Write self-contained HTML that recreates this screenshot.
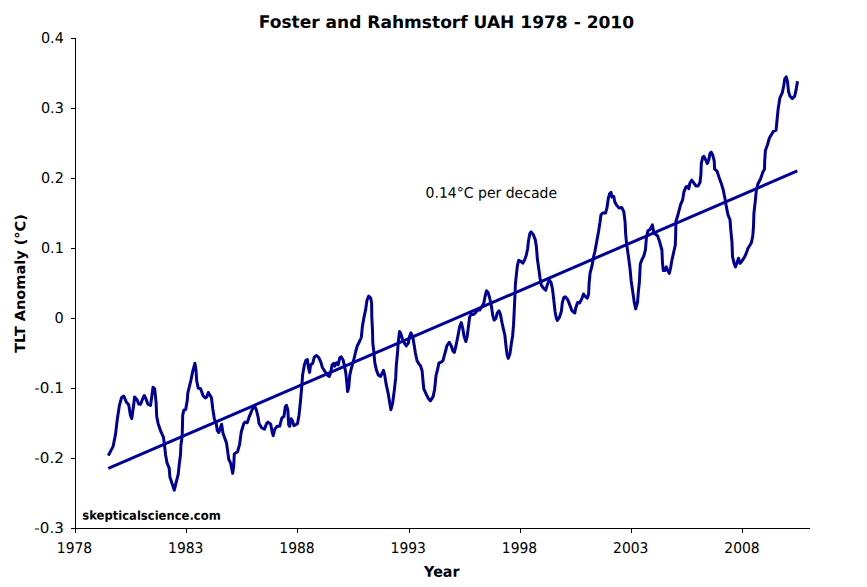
<!DOCTYPE html>
<html lang="en"><head><meta charset="utf-8"><title>Foster and Rahmstorf UAH 1978 - 2010</title>
<style>
html,body{margin:0;padding:0;background:#fff;}
body{width:867px;height:587px;overflow:hidden;}
svg{display:block;}
text{font-family:"DejaVu Sans", "Liberation Sans", sans-serif;fill:#000;}
</style></head><body>
<svg width="867" height="587" viewBox="0 0 867 587">
<rect x="0" y="0" width="867" height="587" fill="#ffffff"/>
<!-- axes -->
<g fill="#000" shape-rendering="crispEdges">
<rect x="75" y="38" width="1" height="495"/>
<rect x="71" y="528" width="739" height="1"/>
<rect x="71" y="38" width="4" height="1"/>
<rect x="71" y="108" width="4" height="1"/>
<rect x="71" y="178" width="4" height="1"/>
<rect x="71" y="248" width="4" height="1"/>
<rect x="71" y="318" width="4" height="1"/>
<rect x="71" y="388" width="4" height="1"/>
<rect x="71" y="458" width="4" height="1"/>
<rect x="186" y="528" width="1" height="5"/>
<rect x="297" y="528" width="1" height="5"/>
<rect x="409" y="528" width="1" height="5"/>
<rect x="520" y="528" width="1" height="5"/>
<rect x="631" y="528" width="1" height="5"/>
<rect x="742" y="528" width="1" height="5"/>
</g>
<!-- y tick labels -->
<text transform="translate(63.80 43.00) rotate(0.05) scale(1 1.05)" font-size="14.0" text-anchor="end" textLength="22.8" lengthAdjust="spacingAndGlyphs">0.4</text>
<text transform="translate(63.80 113.00) rotate(0.05) scale(1 1.05)" font-size="14.0" text-anchor="end" textLength="22.8" lengthAdjust="spacingAndGlyphs">0.3</text>
<text transform="translate(63.80 183.00) rotate(0.05) scale(1 1.05)" font-size="14.0" text-anchor="end" textLength="22.8" lengthAdjust="spacingAndGlyphs">0.2</text>
<text transform="translate(63.80 253.00) rotate(0.05) scale(1 1.05)" font-size="14.0" text-anchor="end" textLength="22.8" lengthAdjust="spacingAndGlyphs">0.1</text>
<text transform="translate(63.80 323.00) rotate(0.05) scale(1 1.05)" font-size="14.0" text-anchor="end" textLength="9.2" lengthAdjust="spacingAndGlyphs">0</text>
<text transform="translate(63.80 393.00) rotate(0.05) scale(1 1.05)" font-size="14.0" text-anchor="end" textLength="29.5" lengthAdjust="spacingAndGlyphs">-0.1</text>
<text transform="translate(63.80 463.00) rotate(0.05) scale(1 1.05)" font-size="14.0" text-anchor="end" textLength="29.5" lengthAdjust="spacingAndGlyphs">-0.2</text>
<text transform="translate(63.80 533.00) rotate(0.05) scale(1 1.05)" font-size="14.0" text-anchor="end" textLength="29.5" lengthAdjust="spacingAndGlyphs">-0.3</text>
<!-- x tick labels -->
<text transform="translate(74.50 553.00) rotate(0.05) scale(1 1.05)" font-size="14.0" text-anchor="middle" textLength="35.3" lengthAdjust="spacingAndGlyphs">1978</text>
<text transform="translate(185.75 553.00) rotate(0.05) scale(1 1.05)" font-size="14.0" text-anchor="middle" textLength="35.3" lengthAdjust="spacingAndGlyphs">1983</text>
<text transform="translate(297.00 553.00) rotate(0.05) scale(1 1.05)" font-size="14.0" text-anchor="middle" textLength="35.3" lengthAdjust="spacingAndGlyphs">1988</text>
<text transform="translate(408.25 553.00) rotate(0.05) scale(1 1.05)" font-size="14.0" text-anchor="middle" textLength="35.3" lengthAdjust="spacingAndGlyphs">1993</text>
<text transform="translate(519.50 553.00) rotate(0.05) scale(1 1.05)" font-size="14.0" text-anchor="middle" textLength="35.3" lengthAdjust="spacingAndGlyphs">1998</text>
<text transform="translate(630.75 553.00) rotate(0.05) scale(1 1.05)" font-size="14.0" text-anchor="middle" textLength="35.3" lengthAdjust="spacingAndGlyphs">2003</text>
<text transform="translate(742.00 553.00) rotate(0.05) scale(1 1.05)" font-size="14.0" text-anchor="middle" textLength="35.3" lengthAdjust="spacingAndGlyphs">2008</text>
<!-- trend line + 12-month running mean series -->
<g fill="none" stroke="#000098" stroke-width="3.0" stroke-linejoin="round" stroke-linecap="butt">
<line x1="108.3" y1="468.4" x2="797.3" y2="170.9"/>
<polyline points="108.3,455.6 113.1,446.4 115.5,434.4 117.3,419.3 119.4,405.4 121.5,397.8 123.8,396.0 126.3,402.0 128.7,404.8 130.4,415.1 131.8,418.6 133.2,408.2 134.6,397.1 136.7,399.2 138.8,404.1 140.6,404.3 142.2,399.9 144.3,395.5 146.1,399.2 147.8,404.1 150.5,405.4 151.9,395.8 153.0,387.2 154.7,388.8 156.1,402.7 156.7,416.5 158.1,423.4 160.9,431.7 163.4,437.1 164.4,444.0 165.6,455.0 167.1,463.2 169.2,468.1 169.9,477.1 172.0,483.3 174.3,490.2 176.1,482.6 178.2,474.3 179.2,464.6 180.5,455.0 180.9,445.4 182.2,435.7 182.7,415.4 183.8,410.2 185.7,409.5 187.3,400.1 187.8,392.9 190.8,380.8 192.7,371.5 194.9,363.3 196.0,369.9 196.7,381.0 198.2,388.0 200.6,388.7 203.0,395.6 205.3,397.9 206.7,397.0 208.3,392.5 210.0,395.3 211.5,398.0 212.8,409.0 214.4,419.2 216.0,422.5 217.3,430.5 218.8,432.5 220.2,428.4 221.6,424.2 223.0,433.2 226.5,442.9 228.8,459.5 230.6,463.0 232.7,473.4 233.7,466.4 234.3,454.0 236.1,452.6 237.5,451.9 239.6,444.3 241.3,431.8 243.8,423.5 245.1,422.1 247.2,422.8 249.3,416.6 252.1,409.7 254.6,405.8 256.5,410.4 258.3,418.0 259.0,423.5 261.7,427.7 264.5,429.3 266.6,423.5 268.0,422.1 270.7,424.2 272.1,431.8 273.2,435.7 274.9,429.1 277.0,426.3 279.7,426.3 281.8,418.0 283.9,416.6 285.3,406.9 286.4,405.3 287.8,409.7 288.7,424.9 289.7,426.3 291.1,418.7 292.5,420.8 293.9,425.6 295.7,424.9 297.5,423.5 299.0,415.2 300.5,401.0 301.9,384.8 302.6,375.1 304.4,364.8 305.8,360.6 307.4,359.6 308.3,366.8 309.6,372.4 310.6,364.8 312.7,363.4 314.3,357.1 316.6,355.5 318.9,357.8 321.0,362.7 322.4,367.5 325.1,371.7 327.2,375.1 329.3,376.5 330.7,372.4 332.1,364.8 333.7,363.4 334.8,366.1 336.5,362.7 338.3,364.8 339.7,357.8 341.3,356.9 343.1,359.9 344.5,366.1 345.9,373.8 346.9,383.4 347.6,391.5 348.7,387.6 349.8,375.1 351.4,368.2 353.6,360.5 355.7,351.5 357.2,346.0 359.5,341.5 361.3,337.5 362.4,326.5 363.8,318.2 365.6,309.9 367.0,300.2 368.7,296.1 370.7,298.1 371.6,303.0 371.8,316.8 372.5,330.7 372.8,343.0 373.8,351.5 374.8,362.6 376.3,369.6 378.4,375.1 380.5,376.5 382.6,372.4 383.5,370.3 384.7,375.1 386.0,383.4 388.1,393.1 389.5,401.4 390.9,409.7 392.7,402.8 394.3,390.4 395.7,377.9 396.3,365.4 397.5,353.0 398.3,341.8 399.6,331.5 400.9,334.0 402.5,339.5 404.4,343.1 406.3,345.9 408.4,342.8 409.6,336.2 410.9,332.9 412.8,336.9 413.9,343.5 415.4,353.0 417.0,360.5 418.9,364.0 420.5,365.8 422.1,370.8 423.3,384.0 423.8,388.8 426.3,394.4 428.4,398.5 430.4,400.9 433.2,396.4 434.6,389.5 436.0,375.7 437.4,370.1 439.0,362.9 441.5,362.0 443.0,360.5 444.8,353.8 447.0,345.5 449.2,342.3 451.3,346.0 452.9,351.0 454.4,352.3 456.2,344.7 458.2,334.5 459.7,326.5 461.3,322.6 462.7,328.1 464.1,336.4 465.8,341.5 467.1,337.0 468.2,328.5 469.6,317.1 471.3,314.0 473.4,314.6 475.4,312.9 477.5,310.1 479.6,310.1 481.3,307.4 483.8,303.2 485.1,296.3 486.5,290.8 488.2,292.8 489.6,297.7 491.4,306.0 492.8,315.7 494.1,320.1 495.9,318.4 497.3,312.9 499.0,310.8 500.4,314.3 502.0,322.6 503.6,329.8 504.9,335.5 505.7,343.5 506.9,353.5 508.2,358.4 510.0,353.5 511.6,342.0 512.6,336.0 513.5,325.4 514.2,311.5 514.9,296.5 515.4,284.0 516.5,273.5 517.4,265.5 518.7,260.4 520.8,261.4 522.8,263.2 524.9,259.3 526.3,255.1 527.7,248.2 528.4,241.3 529.8,233.7 531.1,231.9 533.2,234.4 535.3,239.9 536.4,246.8 537.4,259.3 538.8,269.0 540.0,277.8 541.4,285.4 543.6,288.2 545.7,290.3 547.5,284.2 549.2,279.7 551.1,282.6 552.5,289.0 553.7,299.1 555.1,312.0 556.4,318.4 557.3,320.5 559.5,317.1 561.4,311.2 562.3,302.9 563.7,297.8 565.3,296.7 567.8,299.8 569.9,305.4 572.0,310.9 574.8,313.0 575.7,308.1 577.5,302.6 579.6,302.9 581.7,299.1 583.5,294.0 585.1,296.4 587.2,298.2 588.6,294.3 589.1,283.0 590.1,273.0 592.2,265.0 593.4,257.5 594.8,252.0 596.5,242.8 598.5,231.7 599.9,222.7 600.9,215.1 602.7,213.1 605.5,213.1 606.9,208.2 608.3,198.5 609.6,193.7 611.0,192.3 612.0,197.1 613.8,196.5 614.8,202.0 616.8,205.4 618.9,207.9 621.7,207.5 623.8,211.7 625.1,222.1 625.6,233.1 626.5,242.8 627.7,251.5 628.7,258.3 630.1,269.4 631.1,280.4 632.9,292.9 634.3,302.6 635.7,308.8 637.5,302.6 638.4,291.5 639.4,281.8 640.3,264.0 641.9,259.7 643.8,256.0 645.4,250.0 646.4,238.0 647.8,231.0 650.2,229.3 652.4,224.9 653.6,231.5 654.9,233.8 657.5,235.8 659.5,241.3 661.9,250.0 662.5,263.0 663.3,270.5 665.0,270.4 666.3,266.9 667.7,270.4 669.3,273.4 670.4,269.0 671.8,260.7 673.5,253.0 675.3,245.2 675.7,233.0 675.9,221.5 677.8,215.3 680.5,204.8 682.6,199.9 684.0,191.6 686.0,186.8 688.1,186.1 688.8,188.8 689.9,183.0 691.8,180.2 693.9,183.1 696.0,186.1 698.0,186.0 700.0,182.5 700.9,174.5 701.3,163.5 702.7,157.3 703.8,156.3 705.5,159.4 707.3,163.5 708.7,160.1 710.1,153.1 711.2,152.2 712.8,155.2 714.2,160.8 714.6,169.1 717.0,171.1 719.1,177.4 721.1,182.9 723.2,189.8 724.9,198.1 726.3,206.4 728.0,214.8 730.0,219.7 730.7,228.8 732.0,242.7 732.5,256.5 734.1,263.4 735.5,266.9 736.9,262.8 738.5,258.2 739.9,263.4 741.7,261.4 744.5,257.2 746.6,252.4 748.0,248.2 751.4,242.7 752.8,235.8 753.5,226.1 753.9,213.5 755.3,200.9 756.4,189.8 757.8,184.3 760.6,178.8 762.7,172.5 764.5,169.1 764.7,160.8 765.4,150.4 767.5,144.7 769.4,138.0 773.3,131.4 776.1,130.1 777.0,120.4 778.1,109.3 779.8,98.2 782.3,92.7 783.7,85.8 784.8,78.8 786.2,76.8 787.5,81.6 788.5,91.3 789.9,96.1 792.2,98.6 794.7,96.1 796.1,89.9 797.5,81.3"/>
</g>
<!-- texts -->
<text transform="translate(446.40 28.00) rotate(0.05)" font-size="17.0" font-weight="bold" text-anchor="middle" textLength="375.3" lengthAdjust="spacingAndGlyphs">Foster and Rahmstorf UAH 1978 - 2010</text>
<text transform="translate(425.60 197.80) rotate(0.05) scale(1 1.04)" font-size="14.0" textLength="131.4" lengthAdjust="spacingAndGlyphs">0.14°C per decade</text>
<text transform="translate(82.30 519.60) rotate(0.05)" font-size="12.3" font-weight="bold" textLength="138.4" lengthAdjust="spacingAndGlyphs">skepticalscience.com</text>
<text transform="translate(441.80 576.70) rotate(0.05) scale(1 1.02)" font-size="14.5" font-weight="bold" text-anchor="middle" textLength="35.4" lengthAdjust="spacingAndGlyphs">Year</text>
<text transform="translate(25.10 283.50) rotate(-89.95) scale(1 0.97)" font-size="14.5" font-weight="bold" text-anchor="middle" textLength="138.7" lengthAdjust="spacingAndGlyphs">TLT Anomaly (°C)</text>
</svg></body></html>
